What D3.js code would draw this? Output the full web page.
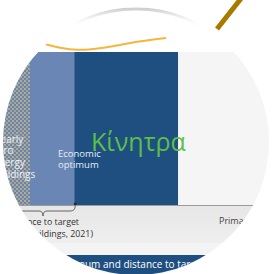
<!DOCTYPE html>
<html>
<head>
<meta charset="utf-8">
<script src="https://cdn.jsdelivr.net/npm/d3@7"></script>
<style>
  html, body { margin: 0; padding: 0; background: #fff; }
  svg { display: block; }
  text { font-family: 'Open Sans', 'Liberation Sans', sans-serif; }
</style>
</head>
<body>
<div id="chart"></div>
<script>
const width = 279
const height = 274

// bands along the primary energy axis
const segments = ['Nearly zero energy buildings', 'Economic optimum', 'Κίνητρα', 'Primary energy']
const segStart = [-10, 20, 37, 77]
const segEnd = [20, 37, 77, 125]
const segValue = [100, 100, 100, 100]

// cost curve above the bars
const curveX = [25.8, 31.5, 38.1, 46.9, 54.6, 62.3, 72.3]
const curveY = [105.2, 102.6, 101.0, 102.3, 104.6, 107.0, 109.2]

const nzebLines = ['Nearly', 'zero', 'energy', 'buildings']
const optLines = ['Economic', 'optimum']
const distLines = ['Distance to target', '(all buildings, 2021)']

const colors = ['url(#hatch)', '#6a86b4', '#1f4f80', '#f5f5f5']

const x = d3.scaleLinear().domain([0, 100]).range([-22, 238])
const y = d3.scaleLinear().domain([0, 100]).range([205, 52])

const svg = d3.select('#chart')
  .append('svg')
  .attr('width', width)
  .attr('height', height)

const defs = svg.append('defs')

const pat = defs.append('pattern')
  .attr('id', 'hatch')
  .attr('patternUnits', 'userSpaceOnUse')
  .attr('width', 4)
  .attr('height', 4)
pat.append('rect').attr('width', 4).attr('height', 4).attr('fill', '#6d84aa')
pat.append('rect').attr('x', 0).attr('y', 0).attr('width', 2).attr('height', 2).attr('fill', '#aeac98')
pat.append('rect').attr('x', 2).attr('y', 2).attr('width', 2).attr('height', 2).attr('fill', '#a3a596')

const rim = defs.append('linearGradient')
  .attr('id', 'rim')
  .attr('x1', 0).attr('y1', 0).attr('x2', 0).attr('y2', 1)
rim.append('stop').attr('offset', '0%').attr('stop-color', '#cfcfcf')
rim.append('stop').attr('offset', '7%').attr('stop-color', '#ffffff').attr('stop-opacity', 0)

const below = defs.append('linearGradient')
  .attr('id', 'below')
  .attr('x1', 0).attr('y1', 0).attr('x2', 0).attr('y2', 1)
below.append('stop').attr('offset', '0%').attr('stop-color', '#e6e6e6')
below.append('stop').attr('offset', '100%').attr('stop-color', '#efefef')

const lens = { cx: 136, cy: 142, r: 133 }

defs.append('clipPath')
  .attr('id', 'lens')
  .append('circle')
  .attr('cx', lens.cx)
  .attr('cy', lens.cy)
  .attr('r', lens.r)

const g = svg.append('g').attr('clip-path', 'url(#lens)')

g.append('rect')
  .attr('width', width)
  .attr('height', height)
  .attr('fill', '#fff')

// area under the axis
g.append('rect')
  .attr('x', 0)
  .attr('y', y(0))
  .attr('width', width)
  .attr('height', 38)
  .attr('fill', 'url(#below)')
g.append('rect')
  .attr('x', 0)
  .attr('y', y(0) + 38)
  .attr('width', width)
  .attr('height', 12)
  .attr('fill', '#f4f4f4')

// bars
g.selectAll('.bar')
  .data(segments)
  .enter()
  .append('rect')
  .attr('class', 'bar')
  .attr('x', (d, i) => x(segStart[i]))
  .attr('y', (d, i) => y(segValue[i]))
  .attr('width', (d, i) => x(segEnd[i]) - x(segStart[i]))
  .attr('height', (d, i) => y(0) - y(segValue[i]))
  .attr('fill', (d, i) => colors[i])

// axis line
g.append('line')
  .attr('x1', x(-10))
  .attr('x2', x(125))
  .attr('y1', y(0) + 0.5)
  .attr('y2', y(0) + 0.5)
  .attr('stroke', '#9c9c9c')
  .attr('stroke-width', 1.2)

g.append('circle')
  .attr('cx', x(segEnd[1]) + 1)
  .attr('cy', y(0) - 1)
  .attr('r', 1.4)
  .attr('fill', '#1a2a3a')

// cost curve
const line = d3.line()
  .x(d => x(d[0]))
  .y(d => y(d[1]))
  .curve(d3.curveBasis)

g.append('path')
  .datum(curveX.map((v, i) => [v, curveY[i]]))
  .attr('d', line)
  .attr('fill', 'none')
  .attr('stroke', '#f4b63c')
  .attr('stroke-width', 2)

// brace under the nzeb band
const bx0 = x(segStart[0]) + 10
const bx1 = x(segEnd[1]) + 1
const bm = x(segEnd[0]) + 13
const by = y(0) + 6
g.append('path')
  .attr('d', `M${bx1},${y(0) + 1} Q${bx1},${by} ${bx1 - 5},${by} L${bm + 4},${by} Q${bm},${by} ${bm},${by + 5} Q${bm},${by} ${bm - 4},${by} L${bx0},${by}`)
  .attr('fill', 'none')
  .attr('stroke', '#555')
  .attr('stroke-width', 0.9)

// labels
g.selectAll('.nzeb')
  .data(nzebLines)
  .enter()
  .append('text')
  .attr('class', 'nzeb')
  .attr('x', -7)
  .attr('y', (d, i) => 142.5 + i * 11.7)
  .attr('fill', '#eef1f6')
  .attr('font-size', 10)
  .text(d => d)

g.selectAll('.opt')
  .data(optLines)
  .enter()
  .append('text')
  .attr('class', 'opt')
  .attr('x', 58)
  .attr('y', (d, i) => 156.5 + i * 11.5)
  .attr('fill', '#e6ecf4')
  .attr('font-size', 9.5)
  .text(d => d)

g.append('text')
  .attr('x', 91)
  .attr('y', 151)
  .attr('fill', '#5cbf4a')
  .attr('font-size', 25)
  .text(segments[2])

g.selectAll('.dist')
  .data(distLines)
  .enter()
  .append('text')
  .attr('class', 'dist')
  .attr('x', (d, i) => i === 0 ? 79 : 93)
  .attr('y', (d, i) => 225 + i * 12)
  .attr('text-anchor', 'end')
  .attr('fill', '#333')
  .attr('font-size', 8.8)
  .text(d => d)

g.append('text')
  .attr('x', 219)
  .attr('y', 224)
  .attr('fill', '#444')
  .attr('font-size', 9)
  .text(segments[3])

// title band at the bottom
g.append('rect')
  .attr('x', 0)
  .attr('y', 255)
  .attr('width', width)
  .attr('height', 30)
  .attr('fill', '#1f4f80')

const prefix = 'Economic optim'
const probe = g.append('text').attr('font-size', 10).text(prefix)
const pw = probe.node().getComputedTextLength()
probe.remove()

g.append('text')
  .attr('x', 85 - pw)
  .attr('y', 268)
  .attr('fill', '#fff')
  .attr('font-size', 10)
  .text(prefix + 'um and distance to target')

// lens rim
svg.append('circle')
  .attr('cx', lens.cx)
  .attr('cy', lens.cy)
  .attr('r', lens.r)
  .attr('fill', 'none')
  .attr('stroke', 'url(#rim)')
  .attr('stroke-width', 3)

// handle
svg.append('line')
  .attr('x1', 217)
  .attr('y1', 29)
  .attr('x2', 243)
  .attr('y2', -4)
  .attr('stroke', '#a67b00')
  .attr('stroke-width', 5)
</script>
</body>
</html>
